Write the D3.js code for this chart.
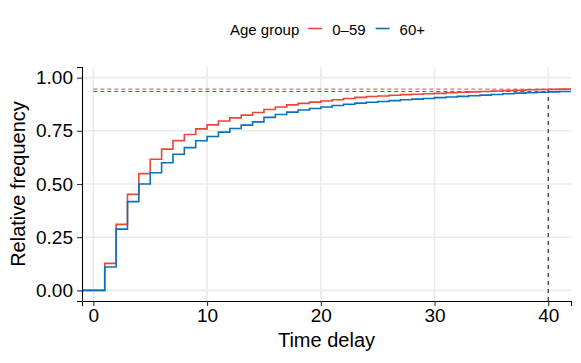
<!DOCTYPE html>
<html>
<head>
<meta charset="utf-8">
<script src="https://cdn.jsdelivr.net/npm/d3@7"></script>
<style>
  body { margin: 0; background: #fff; }
  svg { display: block; font-family: "Liberation Sans", Arial, sans-serif; }
</style>
</head>
<body>
<script>
// cumulative relative frequency per time delay (step at each integer day)
const days = d3.range(0, 42);
const young = [0, 0.127, 0.31, 0.451, 0.549, 0.616, 0.664, 0.704, 0.733, 0.759,
  0.778, 0.796, 0.811, 0.824, 0.836, 0.850, 0.862, 0.872, 0.879, 0.885,
  0.890, 0.896, 0.902, 0.907, 0.911, 0.914, 0.917, 0.920, 0.922, 0.924,
  0.926, 0.929, 0.931, 0.933, 0.935, 0.937, 0.939, 0.941, 0.943, 0.944,
  0.945, 0.946];
const old = [0, 0.11, 0.288, 0.417, 0.50, 0.553, 0.60, 0.64, 0.671, 0.703,
  0.723, 0.744, 0.761, 0.777, 0.792, 0.813, 0.827, 0.838, 0.848, 0.855,
  0.862, 0.869, 0.875, 0.880, 0.884, 0.888, 0.892, 0.896, 0.899, 0.902,
  0.906, 0.909, 0.912, 0.915, 0.918, 0.921, 0.924, 0.927, 0.929, 0.931,
  0.933, 0.935];
const groups = ['0\u201359', '60+'];
const plateaus = [0.946, 0.935];
const cutoff = 40;
const cutoffLevel = 0.943;
const xTicks = [0, 10, 20, 30, 40];
const yTicks = [0, 0.25, 0.5, 0.75, 1];

const width = 581, height = 363;
const margin = { top: 67, right: 10, bottom: 62, left: 82 };
const colors = ['#E8473A', '#0A72BA'];

const svg = d3.select('body').append('svg')
  .attr('width', width).attr('height', height);

const x = d3.scaleLinear().domain([-1, 42]).range([margin.left, width - margin.right]);
const y = d3.scaleLinear().domain([-0.05, 1.05]).range([height - margin.bottom, margin.top]);

// grid
const grid = svg.append('g').attr('stroke', '#ebebeb').attr('stroke-width', 1.6);
grid.selectAll('.gx').data(xTicks).join('line')
  .attr('x1', d => x(d)).attr('x2', d => x(d))
  .attr('y1', y.range()[0]).attr('y2', y.range()[1]);
grid.selectAll('.gy').data(yTicks).join('line')
  .attr('y1', d => y(d)).attr('y2', d => y(d))
  .attr('x1', x.range()[0]).attr('x2', x.range()[1]);

svg.append('clipPath').attr('id', 'clip').append('rect')
  .attr('x', x.range()[0]).attr('y', y.range()[1])
  .attr('width', x.range()[1] - x.range()[0]).attr('height', y.range()[0] - y.range()[1]);

const panel = svg.append('g').attr('clip-path', 'url(#clip)');

// plateau reference lines
panel.selectAll('.plateau').data(plateaus).join('line')
  .attr('x1', x(0)).attr('x2', x.range()[1])
  .attr('y1', d => y(d)).attr('y2', d => y(d))
  .attr('stroke', (d, i) => colors[i]).attr('stroke-width', 1)
  .attr('stroke-dasharray', '4,3');

panel.append('line')
  .attr('x1', x(cutoff)).attr('x2', x(cutoff))
  .attr('y1', y.range()[0]).attr('y2', y(cutoffLevel))
  .attr('stroke', '#222').attr('stroke-width', 1.1)
  .attr('stroke-dasharray', '4,4');

const line = d3.line().curve(d3.curveStepAfter).x(d => x(d[0])).y(d => y(d[1]));
const xmin = x.domain()[0], xmax = x.domain()[1];
[young, old].forEach((vals, i) => {
  const pts = [[xmin, 0]].concat(days.map((d, j) => [d, vals[j]]));
  pts.push([xmax, vals[vals.length - 1]]);
  panel.append('path').datum(pts)
    .attr('fill', 'none').attr('stroke', colors[i]).attr('stroke-width', 1.6)
    .attr('d', line);
});

// axes
const xAxis = svg.append('g').attr('transform', `translate(0,${y.range()[0]})`)
  .call(d3.axisBottom(x).tickValues(xTicks).tickSize(5).tickPadding(3));
const yAxis = svg.append('g').attr('transform', `translate(${x.range()[0]},0)`)
  .call(d3.axisLeft(y).tickValues(yTicks).tickFormat(d3.format('.2f')).tickSize(5).tickPadding(4));
[xAxis, yAxis].forEach(a => {
  a.select('.domain').attr('stroke', '#000').attr('stroke-width', 1.1);
  a.selectAll('.tick line').attr('stroke', '#333').attr('stroke-width', 1.1);
  a.selectAll('.tick text').attr('fill', '#000').style('font-size', '19px')
    .style('font-family', '"Liberation Sans", Arial, sans-serif');
});

svg.append('text').attr('x', (x.range()[0] + x.range()[1]) / 2).attr('y', 347)
  .attr('text-anchor', 'middle').style('font-size', '20px').text('Time delay');
svg.append('text')
  .attr('transform', `translate(25,${(y.range()[0] + y.range()[1]) / 2}) rotate(-90)`)
  .attr('text-anchor', 'middle').style('font-size', '20px').text('Relative frequency');

// legend
const legend = svg.append('g').style('font-size', '15px');
let lx = 230;
const ly = 34.5;
const title = legend.append('text').attr('x', lx).attr('y', ly).text('Age group');
lx += title.node().getComputedTextLength() + 9;
groups.forEach((g, i) => {
  legend.append('line').attr('x1', lx).attr('x2', lx + 14)
    .attr('y1', ly - 6).attr('y2', ly - 6)
    .attr('stroke', colors[i]).attr('stroke-width', 1.6);
  lx += 24;
  const t = legend.append('text').attr('x', lx).attr('y', ly).text(g);
  lx += t.node().getComputedTextLength() + 10;
});
</script>
</body>
</html>
